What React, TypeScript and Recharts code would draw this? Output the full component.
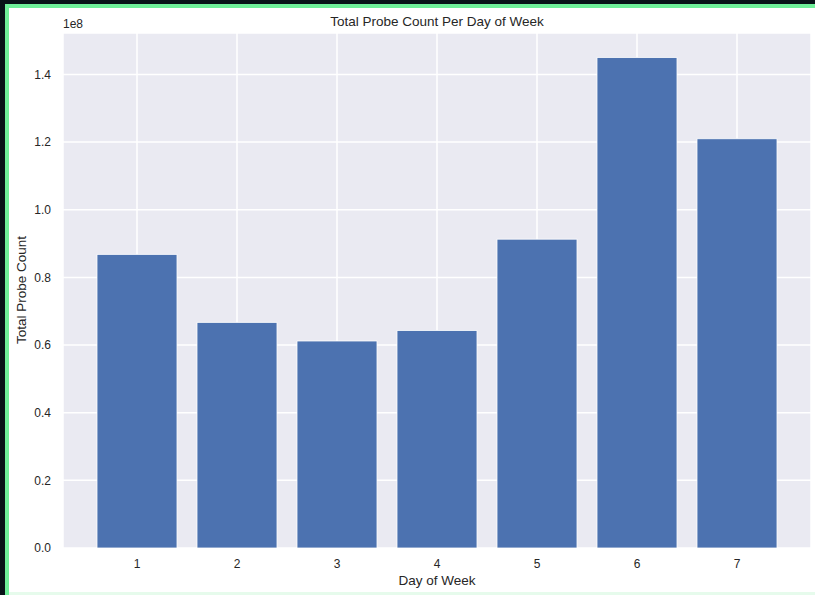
import React from 'react';
import { BarChart, Bar, XAxis, YAxis, CartesianGrid } from 'recharts';

const days = ['1', '2', '3', '4', '5', '6', '7'];
const probeCounts = [0.868e8, 0.667e8, 0.612e8, 0.643e8, 0.913e8, 1.45e8, 1.21e8];
const yTicks = [0, 0.2e8, 0.4e8, 0.6e8, 0.8e8, 1.0e8, 1.2e8, 1.4e8];
const yMax = 1.5225e8;

const data = days.map((d, i) => ({ day: d, count: probeCounts[i] }));

const FONT = '"Liberation Sans", Arial, sans-serif';
const TEXT = '#262626';

export default function App() {
  return (
    <div style={{ position: 'fixed', left: 0, top: 0, width: 815, height: 595, background: '#081318', overflow: 'hidden', fontFamily: FONT }}>
      <div style={{ position: 'absolute', left: 5, top: 4, width: 830, height: 600, background: '#6ff09a' }} />
      <div style={{ position: 'absolute', left: 9, top: 8, width: 830, height: 584, background: '#ffffff' }} />
      <div style={{ position: 'absolute', left: 9, top: 592, width: 830, height: 3, background: '#e6fbec' }} />
      <div style={{ position: 'absolute', left: 0, top: 0 }}>
        <BarChart width={815} height={595} data={data} margin={{ top: 33, right: 4, left: 13, bottom: 17 }} barCategoryGap="10%">
          <CartesianGrid fill="#EAEAF2" stroke="#ffffff" strokeWidth={1.5} />
          <XAxis
            dataKey="day"
            padding={{ left: 24, right: 24 }}
            tickLine={false}
            axisLine={false}
            tickSize={0}
            tickMargin={11}
            height={30}
            tick={{ fontSize: 12, fill: TEXT, fontFamily: FONT }}
          />
          <YAxis
            type="number"
            domain={[0, yMax]}
            ticks={yTicks}
            allowDataOverflow
            width={50}
            tickLine={false}
            axisLine={false}
            tickSize={0}
            tickMargin={12}
            tickFormatter={(v: number) => (v / 1e8).toFixed(1)}
            tick={{ fontSize: 12, fill: TEXT, fontFamily: FONT }}
          />
          <Bar dataKey="count" fill="#4C72B0" stroke="#ffffff" strokeWidth={0.8} isAnimationActive={false} />
        </BarChart>
      </div>
      <div style={{ position: 'absolute', left: 437, top: 21, transform: 'translate(-50%, -50%)', fontSize: 13.5, color: TEXT, whiteSpace: 'nowrap' }}>
        Total Probe Count Per Day of Week
      </div>
      <div style={{ position: 'absolute', left: 63, top: 24, transform: 'translateY(-50%)', fontSize: 12, color: TEXT, whiteSpace: 'nowrap' }}>
        1e8
      </div>
      <div style={{ position: 'absolute', left: 437, top: 580, transform: 'translate(-50%, -50%)', fontSize: 13.5, color: TEXT, whiteSpace: 'nowrap' }}>
        Day of Week
      </div>
      <div style={{ position: 'absolute', left: 21, top: 290, transform: 'translate(-50%, -50%) rotate(-90deg)', fontSize: 13.5, color: TEXT, whiteSpace: 'nowrap' }}>
        Total Probe Count
      </div>
    </div>
  );
}
